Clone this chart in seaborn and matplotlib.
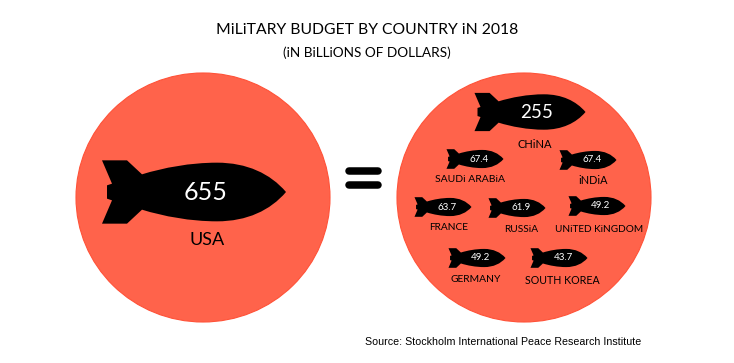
import matplotlib
matplotlib.use("Agg")
import matplotlib.pyplot as plt
import pandas as pd
import seaborn as sns
from matplotlib.patches import Ellipse
from matplotlib.path import Path

# data
countries = ["USA", "CHiNA", "SAUDi ARABiA", "iNDiA", "FRANCE", "RUSSiA",
             "UNiTED KiNGDOM", "GERMANY", "SOUTH KOREA"]
budgets = ["655", "255", "67.4", "67.4", "63.7", "61.9", "49.2", "49.2", "43.7"]
tiers = ["large", "medium", "small", "small", "small", "small", "small", "small", "small"]

# layout, in pixels of the 734x363 picture
bomb_x = [194, 530, 475, 588, 443, 517, 597, 477, 559]
bomb_y = [192, 112, 159, 160, 207, 208, 206, 258, 258]
name_y = [240, 144, 179, 180, 228, 229, 229, 280, 280]
name_x = [207, 535, 470, 593, 449, 521, 599, 476, 562]
name_size = [13, 8, 7.5, 7.8, 7.3, 7.3, 7.2, 7.4, 7.7]
value_dx = {"large": 12, "medium": 7, "small": 4}
value_size = {"large": 18, "medium": 13.5, "small": 7}
marker_area = {"large": 17550, "medium": 6390, "small": 1684}

RED = "#FF634B"
EDGE = "#FF5238"
LABEL_FONT = ["Lato", "DejaVu Sans"]


def bomb_marker():
    # top half traced from the big bomb, mirrored for the bottom
    def p(x, y):
        return ((x - 401) / 276, (185 - y) / 276)

    def q(x, y):
        return ((x - 401) / 276, (y - 185) / 276)

    verts = [p(125, 90), p(200, 90), p(245, 132),
             p(310, 112), p(390, 97), p(470, 97),
             p(560, 97), p(630, 130), p(677, 185),
             q(630, 130), q(560, 97), q(470, 97),
             q(390, 97), q(310, 112), q(245, 132),
             q(200, 90), q(125, 90),
             q(155, 160), q(140, 165), p(140, 165), p(155, 160),
             p(125, 90)]
    codes = [Path.MOVETO, Path.LINETO, Path.LINETO,
             Path.CURVE4, Path.CURVE4, Path.CURVE4,
             Path.CURVE4, Path.CURVE4, Path.CURVE4,
             Path.CURVE4, Path.CURVE4, Path.CURVE4,
             Path.CURVE4, Path.CURVE4, Path.CURVE4,
             Path.LINETO, Path.LINETO,
             Path.LINETO, Path.LINETO, Path.LINETO, Path.LINETO,
             Path.CLOSEPOLY]
    return Path(verts, codes)


sns.set_theme(style="white")
plt.rcParams["font.family"] = LABEL_FONT

df = pd.DataFrame({"country": countries, "budget": budgets, "tier": tiers,
                   "x": bomb_x, "y": bomb_y})

fig = plt.figure(figsize=(7.34, 3.63), dpi=100)
ax = fig.add_axes([0, 0, 1, 1])
ax.set_xlim(0, 734)
ax.set_ylim(363, 0)
ax.axis("off")

ax.add_patch(Ellipse((203, 197.5), 254, 249, fc=RED, ec=EDGE, lw=0.8, zorder=1))
ax.add_patch(Ellipse((524, 197.5), 254, 249, fc=RED, ec=EDGE, lw=0.8, zorder=1))

# equals sign
ax.plot([349, 378], [171, 171], color="black", lw=5.4, solid_capstyle="round")
ax.plot([349, 378], [185, 185], color="black", lw=5.4, solid_capstyle="round")

sns.scatterplot(data=df, x="x", y="y", size="tier", sizes=marker_area,
                marker=bomb_marker(), color="black", edgecolor="none",
                linewidth=0, legend=False, ax=ax, zorder=3)
ax.set_xlabel("")
ax.set_ylabel("")

for i, row in df.iterrows():
    ax.text(row["x"] + value_dx[row["tier"]], row["y"], row["budget"], color="white",
            fontsize=value_size[row["tier"]], ha="center", va="center", zorder=4)
    ax.text(name_x[i], name_y[i], row["country"], color="black", fontsize=name_size[i],
            ha="center", va="center", zorder=4)

ax.text(367, 30, "MiLiTARY BUDGET BY COUNTRY iN 2018", color="black", fontsize=11.3,
        ha="center", va="center")
ax.text(367, 53, "(iN BiLLiONS OF DOLLARS)", color="black", fontsize=9.8,
        ha="center", va="center")
ax.text(503, 342, "Source: Stockholm International Peace Research Institute", color="black",
        fontsize=7.65, family="Liberation Sans", ha="center", va="center")

fig.savefig("out.png", dpi=100)
